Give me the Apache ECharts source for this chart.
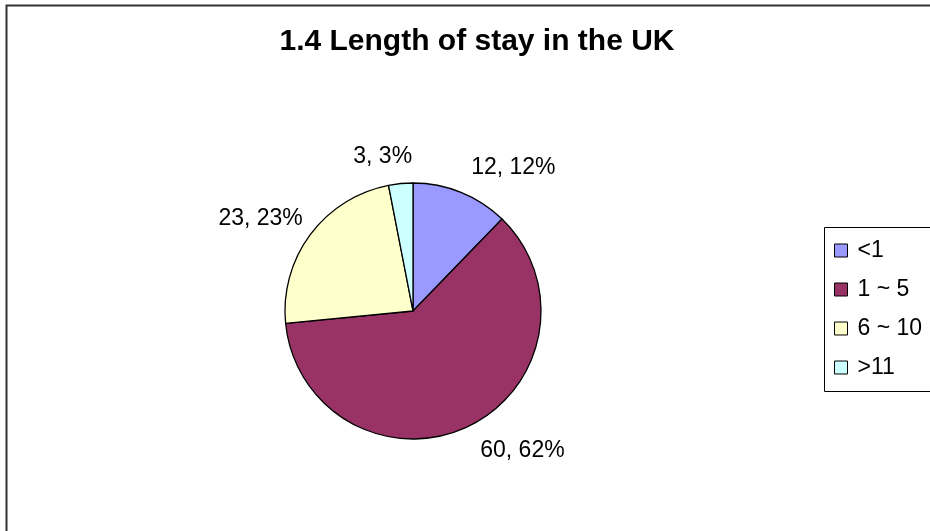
<!DOCTYPE html>
<html>
<head>
<meta charset="utf-8">
<script src="https://cdn.jsdelivr.net/npm/echarts@6/dist/echarts.min.js"></script>
<style>
  html, body { margin: 0; padding: 0; background: #fff; }
  #chart { width: 930px; height: 531px; }
</style>
</head>
<body>
<div id="chart"></div>
<script>
// Length of stay in the UK (years) — counts and the shares printed beside each slice
const categories = ['<1', '1 ~ 5', '6 ~ 10', '>11'];
const counts = [12, 60, 23, 3];
const shares = [12, 62, 23, 3];
const colors = ['#9999FF', '#993366', '#FFFFCC', '#CCFFFF'];

const FONT = 'Liberation Sans, Arial, sans-serif';
const PIE_CENTER = [413, 311];

const chart = echarts.init(document.getElementById('chart'));

const data = categories.map((name, i) => ({
  name: name,
  value: counts[i],
  share: shares[i],
  itemStyle: { color: colors[i] }
}));

chart.setOption({
  animation: false,
  backgroundColor: '#ffffff',
  title: {
    text: '1.4 Length of stay in the UK',
    left: 472,
    top: 22,
    textAlign: 'center',
    textStyle: {
      fontFamily: FONT,
      fontSize: 30,
      fontWeight: 'bold',
      color: '#000'
    }
  },
  legend: {
    orient: 'vertical',
    left: 834,
    top: 239,
    padding: 0,
    itemGap: 16,
    itemWidth: 13,
    itemHeight: 13,
    icon: 'rect',
    itemStyle: { borderColor: '#000', borderWidth: 1 },
    textStyle: {
      fontFamily: FONT,
      fontSize: 23,
      lineHeight: 23,
      color: '#000',
      padding: [0, 0, 0, 5]
    },
    data: categories
  },
  graphic: [
    {
      type: 'rect',
      shape: { x: 6.5, y: 5.5, width: 1000, height: 600 },
      style: { fill: 'none', stroke: '#333', lineWidth: 2 },
      silent: true
    },
    {
      type: 'rect',
      shape: { x: 824.5, y: 227.5, width: 200, height: 164 },
      style: { fill: 'none', stroke: '#000', lineWidth: 1 },
      silent: true
    }
  ],
  series: [{
    type: 'pie',
    center: PIE_CENTER,
    radius: 128,
    startAngle: 90,
    clockwise: true,
    data: data,
    itemStyle: { borderColor: '#000', borderWidth: 1.3 },
    label: {
      show: true,
      position: 'outside',
      formatter: p => p.value + ', ' + p.data.share + '%',
      fontFamily: FONT,
      fontSize: 23,
      color: '#000'
    },
    labelLine: { show: false, length: 27, length2: 0 },
    // labels on the left half sit a little closer to the pie, right-half ones a touch further in
    labelLayout: params => {
      const r = params.labelRect;
      const left = r.x + r.width / 2 < PIE_CENTER[0];
      return { dx: left ? 19 : -5 };
    }
  }]
});
</script>
</body>
</html>
